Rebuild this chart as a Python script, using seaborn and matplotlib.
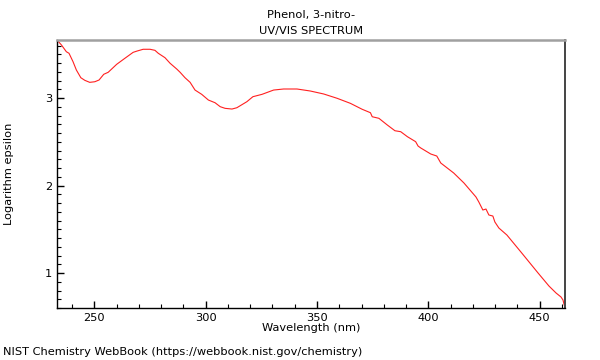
import matplotlib
matplotlib.use("Agg")
import matplotlib.pyplot as plt
import pandas as pd
import seaborn as sns
from matplotlib.ticker import MultipleLocator

# UV/VIS spectrum of 3-nitrophenol
wavelength = [233.2, 235.2, 237.4, 238.6, 240.4, 241.9, 243.9, 245.7, 247.9, 250.2,
              252.1, 254.2, 256.2, 260.0, 263.7, 267.4, 269.2, 271.9, 275.0, 277.2,
              278.7, 281.7, 284.0, 287.0, 288.5, 290.7, 293.0, 295.2, 298.2, 301.2,
              304.2, 306.5, 308.7, 311.8, 314.0, 315.5, 318.5, 321.2, 325.3, 330.5,
              335.0, 341.0, 347.0, 353.0, 359.0, 365.0, 370.3, 374.0, 374.8, 377.8,
              381.6, 385.0, 387.6, 390.6, 394.3, 395.4, 396.6, 401.1, 403.8, 405.6,
              411.4, 416.0, 421.4, 422.7, 424.5, 425.9, 427.2, 429.0, 429.9, 431.7,
              435.3, 441.6, 449.3, 454.2, 457.4, 459.6, 460.5, 461.4]
log_eps = [3.663, 3.606, 3.529, 3.511, 3.415, 3.320, 3.232, 3.202, 3.179, 3.186,
           3.206, 3.271, 3.294, 3.385, 3.454, 3.522, 3.537, 3.557, 3.557, 3.545,
           3.511, 3.461, 3.397, 3.331, 3.294, 3.232, 3.179, 3.091, 3.042, 2.977,
           2.946, 2.901, 2.882, 2.874, 2.889, 2.912, 2.958, 3.015, 3.042, 3.091,
           3.103, 3.103, 3.080, 3.046, 2.997, 2.939, 2.871, 2.832, 2.786, 2.768,
           2.691, 2.626, 2.615, 2.558, 2.501, 2.451, 2.429, 2.360, 2.337, 2.257,
           2.143, 2.029, 1.869, 1.811, 1.720, 1.731, 1.663, 1.651, 1.583, 1.514,
           1.434, 1.240, 1.000, 0.851, 0.771, 0.726, 0.691, 0.600]

x_ticks = [250, 300, 350, 400, 450]
y_ticks = [1, 2, 3]

df = pd.DataFrame({"wavelength": wavelength, "log_eps": log_eps})

sns.set_style("ticks")
plt.rcParams["font.family"] = ["DejaVu Sans"]
plt.rcParams["text.color"] = "black"
plt.rcParams["axes.labelcolor"] = "black"
plt.rcParams["xtick.color"] = "black"
plt.rcParams["ytick.color"] = "black"

fs = 8.2

fig = plt.figure(figsize=(6, 3.6), dpi=100)
ax = fig.add_axes([57 / 600, 52 / 360, 508 / 600, 268 / 360])

sns.lineplot(data=df, x="wavelength", y="log_eps", ax=ax, color="#ff2020",
             linewidth=0.8, sort=False, estimator=None)

ax.set_xlim(min(wavelength), max(wavelength))
ax.set_ylim(min(log_eps), max(log_eps))
ax.set_xticks(x_ticks)
ax.set_yticks(y_ticks)
ax.xaxis.set_minor_locator(MultipleLocator(10))
ax.yaxis.set_minor_locator(MultipleLocator(0.1))
ax.tick_params(which="major", direction="in", length=5, width=1, labelsize=fs)
ax.tick_params(which="minor", direction="in", length=3, width=0.8)

for side in ["left", "bottom"]:
    ax.spines[side].set_color("black")
    ax.spines[side].set_linewidth(1.0)
ax.spines["top"].set_color("#a0a0a0")
ax.spines["top"].set_linewidth(1.8)
ax.spines["right"].set_color("#444444")
ax.spines["right"].set_linewidth(1.4)
ax.spines["top"].set_visible(True)
ax.spines["right"].set_visible(True)

ax.set_xlabel("Wavelength (nm)", fontsize=fs, labelpad=0)
ax.set_ylabel("Logarithm epsilon", fontsize=fs, labelpad=22)
ax.set_title("Phenol, 3-nitro-\nUV/VIS SPECTRUM", fontsize=fs, pad=4, linespacing=1.85)

fig.text(3 / 600, 1 - 352 / 360, "NIST Chemistry WebBook (https://webbook.nist.gov/chemistry)",
         fontsize=fs, ha="left", va="center")

fig.savefig("out.png", dpi=100)
